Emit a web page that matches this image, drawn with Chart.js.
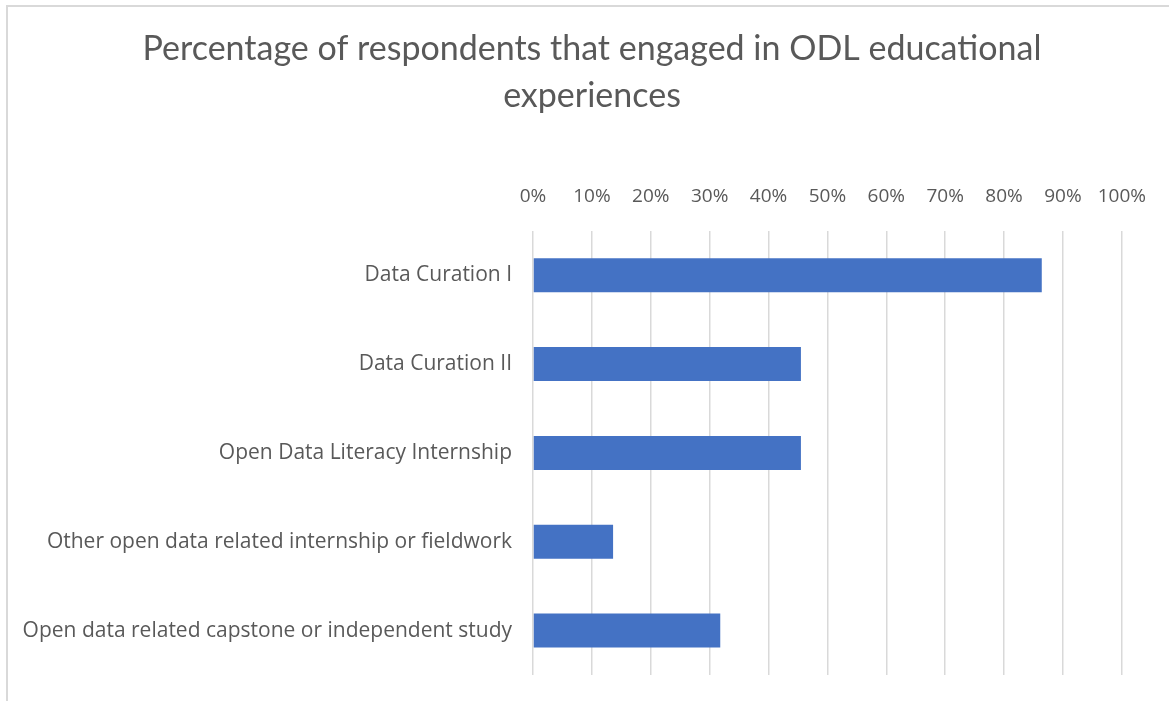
<!DOCTYPE html>
<html>
<head>
<meta charset="utf-8">
<script src="https://cdn.jsdelivr.net/npm/chart.js@4/dist/chart.umd.min.js"></script>
<style>
  html, body { margin: 0; padding: 0; background: #fff; }
  #frame {
    position: absolute; left: 6px; top: 5px; width: 1180px; height: 720px;
    border: 2px solid #d9d9d9; box-sizing: border-box;
  }
  #wrap { position: absolute; left: 0; top: 0; width: 1169px; height: 701px; }
</style>
</head>
<body>
<div id="frame"></div>
<div id="wrap"><canvas id="chart"></canvas></div>
<script>
var categories = [
    "Data Curation I",
    "Data Curation II",
    "Open Data Literacy Internship",
    "Other open data related internship or fieldwork",
    "Open data related capstone or independent study"
];
var percentEngaged = [86.4, 45.5, 45.5, 13.6, 31.8];
var tickValues = [0, 10, 20, 30, 40, 50, 60, 70, 80, 90, 100];

var textGray = "#595959";
var titleFont = "Lato, 'Noto Sans', sans-serif";
var labelFont = "'Open Sans', 'Noto Sans', sans-serif";

// nudge the title box so the heading sits centred over the whole frame
var titleShift = {
    id: "titleShift",
    afterLayout: function (chart) {
        if (chart.titleBlock) chart.titleBlock.left = 62;
    }
};

var config = {
    type: "bar",
    data: {
        labels: categories,
        datasets: [{
            data: percentEngaged,
            backgroundColor: "#4472c4",
            barPercentage: 0.383,
            categoryPercentage: 1.0
        }]
    },
    options: {
        indexAxis: "y",
        responsive: false,
        animation: false,
        layout: { padding: { top: 6, left: 10, right: 47, bottom: 26 } },
        plugins: {
            legend: { display: false },
            tooltip: { enabled: false },
            title: {
                display: true,
                text: ["Percentage of respondents that engaged in ODL educational", "experiences"],
                color: textGray,
                font: { family: titleFont, size: 34, weight: "normal", lineHeight: 1.38 },
                padding: { top: 20, bottom: 0 }
            }
        },
        scales: {
            x: {
                position: "top",
                min: 0,
                max: 100,
                afterBuildTicks: function (scale) {
                    scale.ticks = tickValues.map(function (v) { return { value: v }; });
                },
                afterFit: function (scale) { scale.height = 111; },
                border: { display: false },
                grid: { color: "#d9d9d9", lineWidth: 1.5, drawTicks: false },
                ticks: {
                    color: textGray,
                    padding: 23,
                    font: { family: labelFont, size: 19 },
                    callback: function (v) { return v + "%"; }
                }
            },
            y: {
                afterFit: function (scale) {
                    scale.width = 523;
                    scale.paddingTop = 0;
                    scale.paddingBottom = 0;
                },
                border: { display: false },
                grid: { display: false, drawTicks: false },
                ticks: {
                    color: textGray,
                    padding: 21,
                    font: { family: labelFont, size: 21 }
                }
            }
        }
    },
    plugins: [titleShift]
};

var canvas = document.getElementById("chart");
canvas.width = 1169;
canvas.height = 701;
new Chart(canvas.getContext("2d"), config);
</script>
</body>
</html>
